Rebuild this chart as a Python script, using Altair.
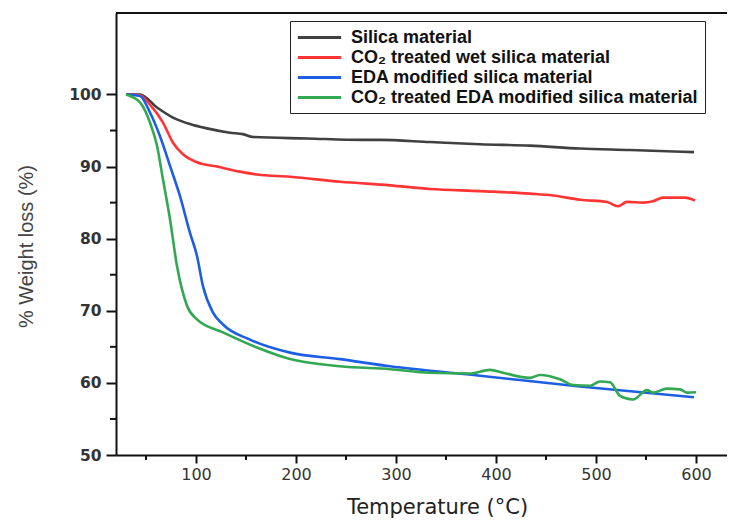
import altair as alt
import pandas as pd

series_names = [
    "Silica material",
    "CO₂ treated wet silica material",
    "EDA modified silica material",
    "CO₂ treated EDA modified silica material",
]
colors = ["#404040", "#ff3434", "#1c5fe3", "#32a852"]

silica_t = [30, 44, 61, 77, 94, 111, 134, 147, 157, 211, 267, 284, 334, 384, 434, 484, 534, 598]
silica_v = [100, 100, 98.2, 96.8, 95.9, 95.3, 94.7, 94.5, 94.1, 93.9, 93.7, 93.7, 93.4, 93.1, 92.9, 92.5, 92.3, 92.0]

co2_t = [30, 44, 54, 67, 77, 87, 101, 121, 144, 161, 194, 244, 294, 334, 384, 434, 457, 484, 511, 522, 531, 547, 557, 567, 589, 599]
co2_v = [100, 99.9, 98.6, 96.1, 93.3, 91.7, 90.6, 90.0, 89.3, 88.9, 88.6, 87.9, 87.4, 86.9, 86.6, 86.25, 86.0, 85.4, 85.1, 84.5, 85.1, 85.0, 85.2, 85.7, 85.7, 85.3]

eda_t = [30, 44, 54, 64, 74, 84, 94, 101, 107, 117, 127, 154, 194, 244, 294, 384, 484, 598]
eda_v = [100, 99.8, 97.5, 94.2, 90.1, 85.9, 80.8, 77.6, 73.4, 69.75, 68.1, 66.0, 64.2, 63.3, 62.3, 61.0, 59.5, 58.0]

co2eda_t = [30, 44, 54, 61, 67, 74, 81, 91, 101, 127, 161, 194, 244, 294, 334, 374, 394, 407, 434, 444, 464, 477, 494, 504, 514, 524, 537, 551, 557, 571, 584, 591, 600]
co2eda_v = [100, 98.9, 96.1, 92.9, 88.2, 82.7, 76.2, 70.7, 68.8, 67.0, 64.9, 63.3, 62.3, 61.9, 61.4, 61.3, 61.8, 61.4, 60.7, 61.1, 60.5, 59.7, 59.6, 60.2, 60.1, 58.2, 57.7, 59.0, 58.65, 59.2, 59.1, 58.65, 58.7]

y_major = [50, 60, 70, 80, 90, 100]
y_minor = [55, 65, 75, 85, 95]
x_major = [100, 200, 300, 400, 500, 600]
x_minor = [50, 150, 250, 350, 450, 550]

rows = []
for name, ts, vs in zip(series_names,
                        [silica_t, co2_t, eda_t, co2eda_t],
                        [silica_v, co2_v, eda_v, co2eda_v]):
    for t, v in zip(ts, vs):
        rows.append({"series": name, "T": t, "W": v})
df = pd.DataFrame(rows)

W, H = 611, 442
xdom = [20, 631]
ydom = [50, 111.3]
label_font = "Liberation Sans"
wide_font = "DejaVu Sans"

xscale = alt.Scale(domain=xdom, nice=False, zero=False)
yscale = alt.Scale(domain=ydom, nice=False, zero=False)

lines = alt.Chart(df).mark_line(strokeWidth=2.6, interpolate="monotone").encode(
    x=alt.X("T:Q", scale=xscale,
            axis=alt.Axis(values=x_major, title="Temperature (°C)", grid=False,
                          tickSize=8, tickWidth=2, tickColor="#111", domainColor="#111",
                          domainWidth=2, labelFontSize=16, labelColor="#333",
                          labelFont=wide_font, labelPadding=3,
                          titleFontSize=21, titleFont=wide_font, titleFontWeight="normal",
                          titleColor="#222", titlePadding=14, titleX=321)),
    y=alt.Y("W:Q", scale=yscale,
            axis=alt.Axis(values=y_major, title="% Weight loss (%)", grid=False,
                          tickSize=10, tickWidth=2, tickColor="#111", domainColor="#111",
                          domainWidth=2, labelFontSize=15.5, labelFontWeight="bold",
                          labelColor="#333", labelFont=wide_font, labelPadding=5,
                          titleFontSize=20, titleFont=label_font, titleFontWeight="normal",
                          titleColor="#444", titlePadding=32, titleY=233)),
    color=alt.Color("series:N", sort=series_names,
                    scale=alt.Scale(domain=series_names, range=colors),
                    legend=alt.Legend(title=None, orient="none", legendX=174, legendY=8,
                                      strokeColor="#222", padding=6, rowPadding=0,
                                      symbolType="M-1,0H4", symbolSize=300,
                                      symbolStrokeWidth=3, labelFontSize=18,
                                      labelFontWeight="bold", labelFont=label_font,
                                      labelColor="#111", labelOffset=34, labelLimit=600)),
    order=alt.Order("T:Q"),
)

ymin_df = pd.DataFrame({"W": y_minor})
xmin_df = pd.DataFrame({"T": x_minor})

y_minor_ticks = alt.Chart(ymin_df).mark_rule(color="#111", strokeWidth=2).encode(
    y=alt.Y("W:Q", scale=yscale),
    x=alt.value(-6), x2=alt.value(0))

x_minor_ticks = alt.Chart(xmin_df).mark_rule(color="#111", strokeWidth=2).encode(
    x=alt.X("T:Q", scale=xscale),
    y=alt.value(H), y2=alt.value(H + 5))

top_border = alt.Chart(alt.Data(values=[{}])).mark_rule(color="#111", strokeWidth=2).encode(
    x=alt.value(0), x2=alt.value(W), y=alt.value(0))

chart = alt.layer(lines, y_minor_ticks, x_minor_ticks, top_border).properties(
    width=W, height=H,
    autosize=alt.AutoSizeParams(type="none"),
    padding={"left": 108, "top": 5, "right": 0, "bottom": 66},
).configure_view(stroke=None).configure(background="white")

chart.save("out.html", embed_options={"renderer": "svg", "actions": False})
